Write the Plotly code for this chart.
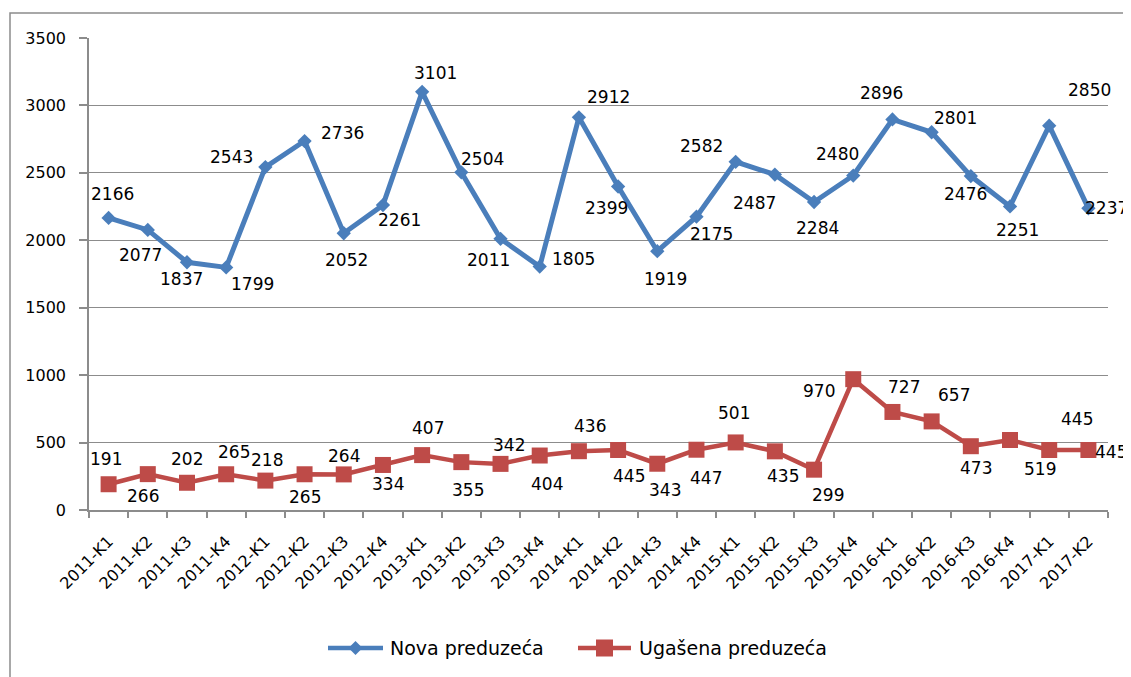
import plotly.graph_objects as go

categories = ["2011-K1", "2011-K2", "2011-K3", "2011-K4", "2012-K1", "2012-K2", "2012-K3", "2012-K4",
              "2013-K1", "2013-K2", "2013-K3", "2013-K4", "2014-K1", "2014-K2", "2014-K3", "2014-K4",
              "2015-K1", "2015-K2", "2015-K3", "2015-K4", "2016-K1", "2016-K2", "2016-K3", "2016-K4",
              "2017-K1", "2017-K2"]
nova = [2166, 2077, 1837, 1799, 2543, 2736, 2052, 2261, 3101, 2504, 2011, 1805, 2912, 2399, 1919, 2175,
        2582, 2487, 2284, 2480, 2896, 2801, 2476, 2251, 2850, 2237]
ugasena = [191, 266, 202, 265, 218, 265, 264, 334, 407, 355, 342, 404, 436, 445, 343, 447,
           501, 435, 299, 970, 727, 657, 473, 519, 445, 445]
y_ticks = [0, 500, 1000, 1500, 2000, 2500, 3000, 3500]
series_names = ["Nova preduzeća", "Ugašena preduzeća"]

# label offsets in pixels (dx right, dy down)
blue_dx = [4, -7, -5, 26, -34, 38, 3, 17, 13, 21, -12, 34, 30, -12, 8, 15, -34, -20, 3, -16, -11, 24, -5, 7, 40, 18]
blue_dy = [-24, 25, 17, 17, -10, -8, 27, 15, -19, -13, 21, -8, -20, 22, 28, 17, -16, 28, 26, -22, -26, -14, 18, 24, -36, 0]
red_dx = [-3, -5, 0, 8, 2, 0, 0, 5, 6, 7, 8, 7, 11, 11, 8, 10, -2, 8, 14, -34, 12, 22, 5, 30, 28, 23]
red_dy = [-25, 22, -24, -22, -21, 23, -18, 19, -27, 28, -19, 28, -25, 26, 26, 28, -29, 25, 25, 12, -25, -26, 22, 29, -31, 2]

BLUE = "#4A7EBB"
RED = "#BE4B48"
FONT = "DejaVu Sans"

fig = go.Figure()
fig.add_trace(go.Scatter(x=categories, y=nova, mode="lines+markers", name=series_names[0],
                         line=dict(color=BLUE, width=5),
                         marker=dict(symbol="diamond", size=11, color=BLUE), showlegend=False))
fig.add_trace(go.Scatter(x=categories, y=ugasena, mode="lines+markers", name=series_names[1],
                         line=dict(color=RED, width=4.5),
                         marker=dict(symbol="square", size=16, color=RED), showlegend=False))

annotations = []
for cat, v, dx, dy in zip(categories, nova, blue_dx, blue_dy):
    annotations.append(dict(x=cat, y=v, text=str(v), showarrow=False, xshift=dx, yshift=-dy,
                            font=dict(family=FONT, size=17, color="#000000")))
for cat, v, dx, dy in zip(categories, ugasena, red_dx, red_dy):
    annotations.append(dict(x=cat, y=v, text=str(v), showarrow=False, xshift=dx, yshift=-dy,
                            font=dict(family=FONT, size=17, color="#000000")))

OFF = 8  # page body margin
W, H = 1131 - OFF, 677 - OFF
L, R, T, B = 89 - OFF, 23, 38 - OFF, 167
pw, ph = W - L - R, H - T - B

def px_x(p):
    return (p - OFF - L) / pw

def px_y(p):
    return (H - B - (p - OFF)) / ph

shapes = [dict(type="rect", xref="paper", yref="paper",
               x0=px_x(10), x1=px_x(1135), y0=px_y(690), y1=px_y(13),
               line=dict(color="#8C8C8C", width=1.5), fillcolor="rgba(0,0,0,0)", layer="below")]

# custom legend (Excel style: long line with marker in the middle)
LY = 648
leg_items = [(328, 383, BLUE, "diamond", 388), (578, 631, RED, "square", 637)]
for (x0, x1, col, sym, tx), name in zip(leg_items, series_names):
    shapes.append(dict(type="line", xref="paper", yref="paper",
                       x0=px_x(x0), x1=px_x(x1), y0=px_y(LY), y1=px_y(LY),
                       line=dict(color=col, width=4.5)))
    cx = (x0 + x1) / 2
    if sym == "diamond":
        r = 7
        path = "M {a},{b} L {c},{d} L {a},{e} L {f},{d} Z".format(
            a=px_x(cx), b=px_y(LY - r), c=px_x(cx + r), d=px_y(LY), e=px_y(LY + r), f=px_x(cx - r))
        shapes.append(dict(type="path", xref="paper", yref="paper", path=path,
                           fillcolor=col, line=dict(color=col, width=0)))
    else:
        r = 8.5
        shapes.append(dict(type="rect", xref="paper", yref="paper",
                           x0=px_x(cx - r), x1=px_x(cx + r), y0=px_y(LY + r), y1=px_y(LY - r),
                           fillcolor=col, line=dict(color=col, width=0)))
    annotations.append(dict(xref="paper", yref="paper", x=px_x(tx), y=px_y(LY), text=name,
                            xanchor="left", yanchor="middle", showarrow=False,
                            font=dict(family=FONT, size=19, color="#000000")))

fig.update_layout(
    width=W, height=H, autosize=False,
    margin=dict(l=L, r=R, t=T, b=B, pad=0),
    paper_bgcolor="white", plot_bgcolor="white",
    font=dict(family=FONT, size=16, color="#000000"),
    showlegend=False,
    annotations=annotations,
    shapes=shapes,
)
fig.update_xaxes(type="category", range=[-0.5, len(categories) - 0.5], tickangle=-45,
                 tickson="boundaries", ticks="outside", ticklen=6, tickcolor="#8C8C8C", tickwidth=1.5,
                 showline=True, linecolor="#8C8C8C", linewidth=1.5, showgrid=False,
                 ticklabelstandoff=14,
                 tickfont=dict(family=FONT, size=16, color="#000000"), zeroline=False)
fig.update_yaxes(range=[0, 3500], tickvals=y_ticks, ticktext=[str(t) for t in y_ticks],
                 ticks="outside", ticklen=8, tickcolor="#8C8C8C", tickwidth=1.5,
                 showline=True, linecolor="#8C8C8C", linewidth=1.5,
                 showgrid=True, gridcolor="#8C8C8C", gridwidth=1.3, zeroline=False,
                 ticklabelstandoff=10,
                 tickfont=dict(family=FONT, size=16, color="#000000"))

fig.write_html("out.html")
